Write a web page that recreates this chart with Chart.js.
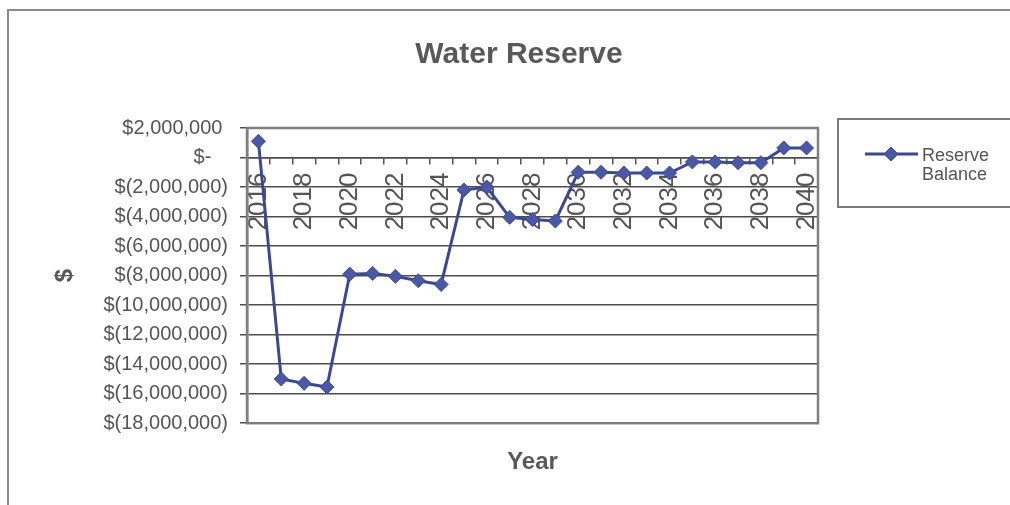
<!DOCTYPE html>
<html>
<head>
<meta charset="utf-8">
<script src="https://cdn.jsdelivr.net/npm/chart.js@4/dist/chart.umd.min.js"></script>
<style>
  html, body { margin: 0; padding: 0; background: #ffffff; }
  #wrap { width: 1010px; height: 505px; position: relative; }
</style>
</head>
<body>
<div id="wrap"><canvas id="chart" width="1010" height="505"></canvas></div>
<script>
// Year categories along the x axis
const years = [
  '2016', '2017', '2018', '2019', '2020', '2021', '2022', '2023', '2024', '2025',
  '2026', '2027', '2028', '2029', '2030', '2031', '2032', '2033', '2034', '2035',
  '2036', '2037', '2038', '2039', '2040'
];

// Reserve balance at year end, dollars
const reserveBalance = [
  1100000, -15000000, -15300000, -15550000, -7900000, -7850000, -8050000, -8350000, -8600000, -2200000,
  -2000000, -4050000, -4200000, -4300000, -1000000, -1000000, -1050000, -1050000, -1050000, -300000,
  -300000, -350000, -350000, 650000, 650000
];

// Value axis range and step
const yMin = -18000000;
const yMax = 2000000;
const yStep = 2000000;

const FONT = "'Liberation Sans', Arial, sans-serif";
const TEXT = '#555555';
const LINE = '#3b4990';
const MARK = '#4a58a6';

// Accounting-style currency labels: $2,000,000 / $- / $(2,000,000)
function money(v) {
  if (v === 0) return '$-   ';
  const s = Math.abs(v).toLocaleString('en-US');
  return v < 0 ? '$(' + s + ')' : '$' + s + ' ';
}

// Outer frame, plot-area border and the boxed legend
const framePlugin = {
  id: 'frame',
  beforeDatasetsDraw(chart) {
    const { ctx, chartArea: a } = chart;
    ctx.save();
    ctx.strokeStyle = '#7f7f7f';
    ctx.lineWidth = 2.5;
    ctx.strokeRect(a.left, a.top, a.right - a.left, a.bottom - a.top);
    ctx.restore();
  },
  afterDraw(chart) {
    const { ctx } = chart;
    ctx.save();
    // chart frame
    ctx.strokeStyle = '#8a8a8a';
    ctx.lineWidth = 2;
    ctx.beginPath();
    ctx.moveTo(8, 506);
    ctx.lineTo(8, 10);
    ctx.lineTo(1012, 10);
    ctx.stroke();

    // legend box
    const ds = chart.data.datasets[0];
    ctx.strokeStyle = '#7a7a7a';
    ctx.lineWidth = 2;
    ctx.strokeRect(838, 119, 200, 88);
    ctx.strokeStyle = ds.borderColor;
    ctx.lineWidth = ds.borderWidth;
    ctx.beginPath();
    ctx.moveTo(865, 154);
    ctx.lineTo(918, 154);
    ctx.stroke();
    ctx.fillStyle = ds.pointBackgroundColor;
    ctx.strokeStyle = ds.pointBorderColor;
    ctx.lineWidth = ds.pointBorderWidth;
    Chart.helpers.drawPoint(ctx, { pointStyle: ds.pointStyle, radius: ds.pointRadius, borderWidth: ds.pointBorderWidth, rotation: 0 }, 891, 154);
    ctx.fillStyle = TEXT;
    ctx.font = '18px ' + FONT;
    ctx.textAlign = 'left';
    ctx.textBaseline = 'middle';
    const words = ds.label.split(' ');
    ctx.fillText(words[0], 922, 156);
    ctx.fillText(words[1], 922, 175);
    ctx.restore();
  }
};

new Chart(document.getElementById('chart'), {
  type: 'line',
  data: {
    labels: years,
    datasets: [{
      label: 'Reserve Balance',
      data: reserveBalance,
      borderColor: LINE,
      borderWidth: 3,
      pointStyle: 'rectRot',
      pointRadius: 7,
      pointBackgroundColor: MARK,
      pointBorderColor: LINE,
      pointBorderWidth: 1,
      tension: 0,
      fill: false
    }]
  },
  options: {
    responsive: false,
    animation: false,
    layout: { padding: { left: 28, right: 0, top: 0, bottom: 28 } },
    plugins: {
      legend: { display: false },
      tooltip: { enabled: false },
      title: {
        display: true,
        text: 'Water Reserve',
        color: '#595959',
        font: { family: FONT, size: 30, weight: 'bold' },
        padding: { top: 37, bottom: 55 }
      }
    },
    scales: {
      x: {
        type: 'category',
        position: { y: 0 },
        offset: true,
        afterFit(s) { s.height = 0; },
        grid: {
          display: true,
          offset: true,
          drawOnChartArea: false,
          drawTicks: true,
          tickLength: 6,
          color: '#555555',
          lineWidth: 1.5
        },
        border: { display: true, color: '#4d4d4d', width: 1.5 },
        ticks: {
          autoSkip: false,
          maxRotation: 90,
          minRotation: 90,
          padding: 9,
          color: TEXT,
          font: { family: FONT, size: 26 },
          callback(v, i) { return i % 2 === 0 ? this.getLabelForValue(v) : ''; }
        }
      },
      x2: {
        type: 'category',
        labels: years,
        position: 'bottom',
        grid: { display: false },
        border: { display: false },
        ticks: { display: false },
        title: {
          display: true,
          text: 'Year',
          color: '#595959',
          font: { family: FONT, size: 24, weight: 'bold' },
          padding: { top: 17, bottom: 0 }
        }
      },
      y: {
        min: yMin,
        max: yMax,
        afterFit(s) { s.width = 219; },
        afterBuildTicks(s) {
          s.ticks = [];
          for (let v = yMax; v >= yMin; v -= yStep) s.ticks.push({ value: v });
        },
        grid: {
          color: '#4d4d4d',
          lineWidth: 1.5,
          drawTicks: true,
          tickLength: 7
        },
        border: { display: true, color: '#7f7f7f', width: 2.5 },
        ticks: {
          padding: 12,
          color: TEXT,
          font: { family: FONT, size: 20 },
          callback(v) { return money(v); }
        },
        title: {
          display: true,
          text: '$',
          color: '#595959',
          font: { family: FONT, size: 24, weight: 'bold' },
          padding: { top: 23, bottom: 0 }
        }
      },
      // empty right-hand strip that holds the legend box
      yRight: {
        position: 'right',
        afterFit(s) { s.width = 192; },
        grid: { display: false },
        border: { display: false },
        ticks: { display: false }
      }
    }
  },
  plugins: [framePlugin]
});
</script>
</body>
</html>
